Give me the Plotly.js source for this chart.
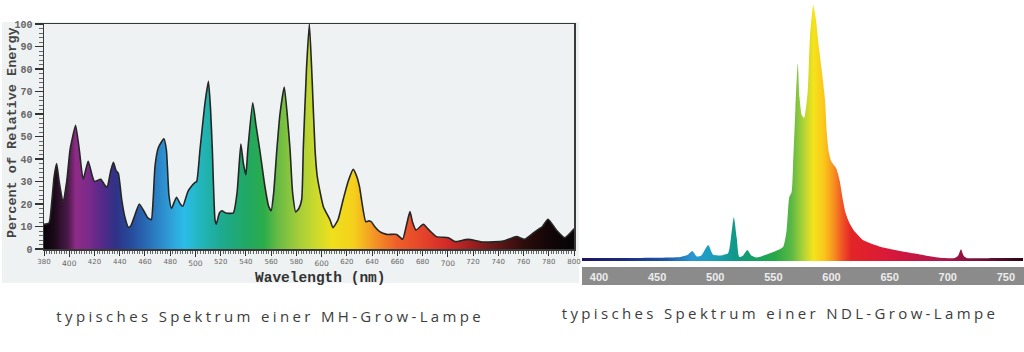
<!DOCTYPE html>
<html>
<head>
<meta charset="utf-8">
<script src="https://cdn.plot.ly/plotly-3.0.1.min.js"></script>
<style>
html,body{margin:0;padding:0;background:#fff;}
#chart{width:1024px;height:352px;}
</style>
</head>
<body>
<div id="chart"></div>
<script>
// ---- MH-Grow-Lampe spectrum (left) ----
const mhWavelength = [380,384,386,388,390,392,395,398,400.6,402,405,408,411,415,418,420,425,428,430,433,435,437,438.9,441.6,444,447,449,452,455.5,459,462,465,466.5,468,470.6,475,477,479,481,485,488,490,494,497,499.6,501,503.6,507.6,510.3,512,513.4,515.5,516.5,519,521,524,530,533,536,538,540,541.5,545.4,548,551,555,558,560,562,564.5,567,570.4,573,575,577,579.5,582,584.2,585.5,588,590.3,592.5,594.8,596.6,601.4,606.7,609,613,617,621,625,628,630,635,637.5,639.6,642,646,651.6,659.5,664.2,667,670,672,674.8,680.6,685,691,700.4,705.7,716,728,744,754.5,761,770,775,779.4,786,792.6,799.2,800];
const mhEnergy     = [11,11.5,20,32,38,30,21,30,44,48,55,44,31,39,33,30,31,28.5,27.5,35,38.5,35,33.6,21.8,14.4,9.6,10.5,15,20,17,14,13,22,37,45,49,44,24,18,23,20,19,25.5,28,29.5,30,44,65,74.5,62,44,13,11,16,17,16,16,25,46.7,38,33,44,65,55,44,28,19,17,25,44,60,72,58,44,25,16.5,18,22,45,80,100,75,44,32,18.8,12.9,9.5,13,21.8,30,35.4,32,27.7,12.1,12.5,12,10,7.7,6.5,6.5,4.3,10,16.6,12,8.4,11,8.5,5.5,5,3.3,4.3,3.1,3.5,5.5,4.3,8.1,10,13.2,8.4,5,8.4,9];
const mhTicks      = [380,420,440,460,480,520,540,560,580,620,640,660,680,720,740,760,780,800];
const mhTicksMajor = [400,500,600,700];
const mhYTicks     = [0,10,20,30,40,50,60,70,80,90,100];

// ---- NDL-Grow-Lampe spectrum (right) ----
const ndlWavelength = [385.4,400,450,470,476,480.3,484,488,494,498.3,505,511,513.5,516,518.5,520.7,524,527.6,531,535.6,547,555,558.5,561.4,563.7,565.7,567,569,571,572.5,574.5,576.5,579.5,581.5,584.3,586.5,589,591.5,594.4,595.8,597.5,599.8,604,606.9,609.8,612,615.5,620,627,641.7,670.3,693.3,706,709,711.4,713.5,716.3,740,764.7];
const ndlEnergy     = [1.2,1.2,1.3,1.6,2.3,3.9,1.8,2.2,6.3,2.4,2.2,3,9,17.1,9,1.6,2.2,4.3,2.2,1.4,3,4.5,5.6,12,25,27,38,60,77.4,64,57,56,66,88,100,95,84,75,63,51,43,39,36.3,31.7,23.9,19,14.8,11.5,8.2,5.6,3,1.3,1.2,2.2,4.6,2.2,1.2,1.2,1.2];
const ndlTicks      = [400,450,500,550,600,650,700,750];

const captions = ['typisches Spektrum einer MH-Grow-Lampe','typisches Spektrum einer NDL-Grow-Lampe'];
const yTitle = 'Percent of Relative Energy';
const xTitle = 'Wavelength (nm)';

const W = 1024, H = 352;
const px = v => v / W;
const py = v => 1 - v / H;

const mhScale = [
  [0.000,'#070306'],[0.020,'#1c0a1a'],[0.045,'#4a1a48'],[0.060,'#8f2b88'],[0.085,'#7a2a8a'],
  [0.110,'#55298a'],[0.135,'#2f3286'],[0.165,'#264c9c'],[0.200,'#2a72bb'],[0.235,'#2e9ad5'],
  [0.265,'#2abde8'],[0.300,'#22b4b6'],[0.335,'#1eaa90'],[0.380,'#20a866'],[0.415,'#2bac4a'],
  [0.440,'#66ba44'],[0.475,'#9ccb3b'],[0.510,'#c8d92d'],[0.545,'#efe01b'],[0.585,'#f5cf1c'],
  [0.620,'#f39a25'],[0.665,'#ef5f29'],[0.715,'#e4442a'],[0.760,'#d32a27'],[0.810,'#9a1f1f'],
  [0.860,'#5c1616'],[0.905,'#2e0c0c'],[0.950,'#140606'],[1.000,'#050404']
];
const ndlScale = [
  [0.000,'#1a1560'],[0.100,'#1d2c80'],[0.190,'#1f56a6'],[0.250,'#2a97d2'],[0.300,'#1a9fb8'],
  [0.345,'#10998a'],[0.390,'#16a065'],[0.440,'#2aa846'],[0.475,'#5cb845'],[0.500,'#a8d138'],
  [0.525,'#f5e41c'],[0.550,'#fbc41a'],[0.570,'#f79320'],[0.590,'#f05424'],[0.610,'#e42526'],
  [0.700,'#d8183a'],[0.820,'#b0154c'],[0.920,'#6a0e30'],[1.000,'#2a0612']
];

const traces = [
  {
    x: mhWavelength, y: mhEnergy, type: 'scatter', mode: 'lines',
    xaxis: 'x', yaxis: 'y',
    line: {color: '#262626', width: 1.6, shape: 'spline', smoothing: 0.5},
    fill: 'tozeroy',
    fillgradient: {type: 'horizontal', colorscale: mhScale, start: 380, stop: 800},
    hoverinfo: 'skip'
  },
  {
    x: ndlWavelength, y: ndlEnergy, type: 'scatter', mode: 'lines',
    xaxis: 'x2', yaxis: 'y2',
    line: {color: 'rgba(0,0,0,0)', width: 0, shape: 'spline', smoothing: 0.6},
    fill: 'tozeroy',
    fillgradient: {type: 'horizontal', colorscale: ndlScale, start: 385.4, stop: 764.7},
    hoverinfo: 'skip'
  },
  { // invisible trace to carry the second bottom axis of the MH chart
    x: [380, 800], y: [0, 0], type: 'scatter', mode: 'lines',
    xaxis: 'x3', yaxis: 'y', line: {width: 0, color: 'rgba(0,0,0,0)'}, hoverinfo: 'skip'
  }
];

const layout = {
  width: W, height: H,
  margin: {l: 0, r: 0, t: 0, b: 0},
  paper_bgcolor: '#ffffff',
  plot_bgcolor: 'rgba(0,0,0,0)',
  showlegend: false,
  xaxis: {
    domain: [px(44), px(574)], range: [380, 800], anchor: 'y',
    tickmode: 'array', tickvals: mhTicks, ticktext: mhTicks.map(String),
    ticks: 'outside', ticklen: 5, tickwidth: 1, tickcolor: '#333',
    minor: {tickmode: 'linear', tick0: 380, dtick: 2, ticks: 'outside', ticklen: 3, tickcolor: '#444', tickwidth: 0.8},
    showline: true, linecolor: '#3a3a3a', linewidth: 1.5, mirror: true,
    showgrid: false, zeroline: false,
    tickfont: {family: 'DejaVu Sans', size: 7, color: '#666'}
  },
  xaxis3: {
    overlaying: 'x', matches: 'x', anchor: 'y', side: 'bottom',
    range: [380, 800],
    tickmode: 'array', tickvals: mhTicksMajor, ticktext: mhTicksMajor.map(String),
    ticks: 'outside', ticklen: 7, tickwidth: 1.2, tickcolor: '#333',
    showline: false, showgrid: false, zeroline: false,
    tickfont: {family: 'DejaVu Sans', size: 7.5, color: '#666'}
  },
  yaxis: {
    domain: [py(249), py(24)], range: [0, 100], anchor: 'x',
    tickmode: 'array', tickvals: mhYTicks, ticktext: mhYTicks.map(String),
    ticks: 'outside', ticklen: 8, tickwidth: 1.2, tickcolor: '#333',
    minor: {tickmode: 'linear', tick0: 0, dtick: 2, ticks: 'outside', ticklen: 4, tickcolor: '#444', tickwidth: 0.8},
    showline: true, linecolor: '#3a3a3a', linewidth: 1.5, mirror: true,
    showgrid: false, zeroline: false,
    tickfont: {family: 'Liberation Mono', size: 10, color: '#666', weight: 'bold'}
  },
  xaxis2: {
    domain: [px(582), px(1023)], range: [385.4, 764.7], anchor: 'y2',
    tickmode: 'array', tickvals: ndlTicks, ticktext: ndlTicks.map(String),
    ticks: '', showline: false, showgrid: false, zeroline: false,
    ticklabelstandoff: 8,
    tickfont: {family: 'Liberation Sans', size: 11, color: '#ececec', weight: 'bold'}
  },
  yaxis2: {
    domain: [py(261), 1], range: [0, 102.15], anchor: 'x2', visible: false
  },
  shapes: [
    {type: 'rect', xref: 'paper', yref: 'paper', x0: px(2), x1: px(579), y0: py(283), y1: py(22),
     fillcolor: '#eff2f2', line: {width: 0}, layer: 'below'},
    {type: 'rect', xref: 'paper', yref: 'paper', x0: px(582), x1: px(1024), y0: py(285), y1: py(267),
     fillcolor: '#8b8b8b', line: {width: 0}, layer: 'below'}
  ],
  annotations: [
    {text: '<b>' + yTitle + '</b>', xref: 'paper', yref: 'paper', x: px(12), y: py(133),
     textangle: -90, showarrow: false, xanchor: 'center', yanchor: 'middle',
     font: {family: 'Liberation Mono', size: 13.5, color: '#444'}},
    {text: '<b>' + xTitle + '</b>', xref: 'paper', yref: 'paper', x: px(320), y: py(277.5),
     showarrow: false, xanchor: 'center', yanchor: 'middle',
     font: {family: 'Liberation Mono', size: 14.5, color: '#333'}},
    {text: captions[0], xref: 'paper', yref: 'paper', x: px(270), y: py(316),
     showarrow: false, xanchor: 'center', yanchor: 'middle',
     font: {family: 'Open Sans', size: 15, color: '#3c3c3c'}},
    {text: captions[1], xref: 'paper', yref: 'paper', x: px(780), y: py(313),
     showarrow: false, xanchor: 'center', yanchor: 'middle',
     font: {family: 'Open Sans', size: 15, color: '#3c3c3c'}}
  ]
};

Plotly.newPlot('chart', traces, layout, {staticPlot: true, displayModeBar: false}).then(() => {
  document.querySelectorAll('g.annotation').forEach(g => {
    const t = g.querySelector('text.annotation-text');
    if (t && t.textContent.indexOf('typisches') === 0) {
      t.style.letterSpacing = '3.35px';
    }
  });
});
</script>
</body>
</html>
